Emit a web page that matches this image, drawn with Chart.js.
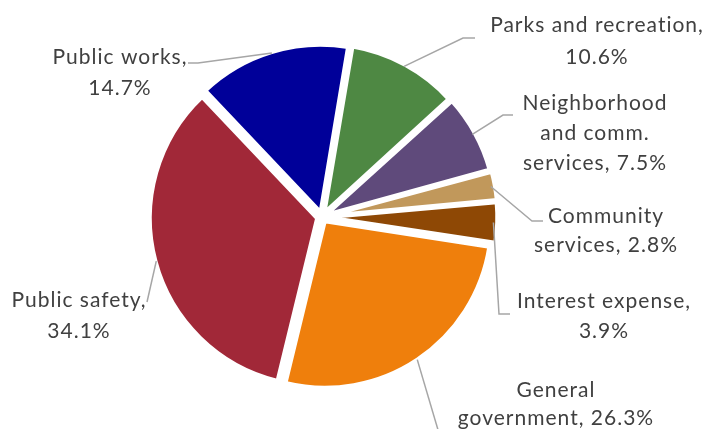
<!DOCTYPE html>
<html>
<head>
<meta charset="utf-8">
<script src="https://cdn.jsdelivr.net/npm/chart.js@4"></script>
<style>
  html, body { margin: 0; padding: 0; background: #ffffff; }
  #wrap { width: 720px; height: 429px; position: relative; }
</style>
</head>
<body>
<div id="wrap"><canvas id="chart"></canvas></div>
<script>
// --- data -------------------------------------------------------------------
var categories = [
  'Parks and recreation',
  'Neighborhood and comm. services',
  'Community services',
  'Interest expense',
  'General government',
  'Public safety',
  'Public works'
];
var shares = [10.6, 7.5, 2.8, 3.9, 26.3, 34.1, 14.7];
// how each category name wraps in its data label (last line gets the percent)
var labelLines = [
  ['Parks and recreation,'],
  ['Neighborhood', 'and comm.', 'services,'],
  ['Community', 'services,'],
  ['Interest expense,'],
  ['General', 'government,'],
  ['Public safety,'],
  ['Public works,']
];
var colors = ['#4e8843', '#5f4a7b', '#c1985b', '#8e4805', '#ef7f0c', '#a12838', '#000099'];

// --- label placement (Excel-style manual positions) --------------------------
var labelLayout = [
  { cx: 597, ys: [25, 57],        elbow: [463, 38],  end: [475, 38] },
  { cx: 595, ys: [103, 133, 163], elbow: [503, 115], end: [513, 115] },
  { cx: 606, ys: [216, 245],      elbow: [532, 221], end: [543, 221] },
  { cx: 604, ys: [301, 331],      elbow: [499, 314], end: [510, 314] },
  { cx: 556, ys: [390, 418],      elbow: [441, 440], end: [441, 440] },
  { cx: 79,  ys: [300, 331],      elbow: [147, 302], end: [147, 302] },
  { cx: 120, ys: [57, 88],        elbow: [198, 63],  end: [188, 63] }
];

var TEXT = '#404040';
var LEADER = '#a6a6a6';
var FONT = "21px Lato, 'Open Sans', sans-serif";
var OFFSET = 20;   // chart.js translates by offset / 4

var leaderLabels = {
  id: 'leaderLabels',
  afterDatasetsDraw: function (chart) {
    var ctx = chart.ctx;
    var meta = chart.getDatasetMeta(0);
    ctx.save();
    meta.data.forEach(function (arc, i) {
      var p = arc.getProps(['x', 'y', 'startAngle', 'endAngle', 'outerRadius'], true);
      var mid = (p.startAngle + p.endAngle) / 2;
      var r = p.outerRadius + OFFSET / 4;
      var ax = p.x + Math.cos(mid) * r;
      var ay = p.y + Math.sin(mid) * r;
      var L = labelLayout[i];

      ctx.strokeStyle = LEADER;
      ctx.lineWidth = 1.5;
      ctx.beginPath();
      ctx.moveTo(ax, ay);
      ctx.lineTo(L.elbow[0], L.elbow[1]);
      ctx.lineTo(L.end[0], L.end[1]);
      ctx.stroke();

      var lines = labelLines[i].slice();
      var pct = shares[i].toFixed(1) + '%';
      if (lines.length === L.ys.length) lines[lines.length - 1] += ' ' + pct;
      else lines.push(pct);

      ctx.fillStyle = TEXT;
      ctx.font = FONT;
      ctx.textAlign = 'center';
      ctx.textBaseline = 'middle';
      if ('letterSpacing' in ctx) ctx.letterSpacing = '1px';
      lines.forEach(function (t, k) {
        ctx.fillText(t, L.cx, L.ys[k]);
      });
    });
    ctx.restore();
  }
};

new Chart(document.getElementById('chart'), {
  type: 'pie',
  data: {
    labels: categories,
    datasets: [{
      data: shares,
      backgroundColor: colors,
      borderColor: '#ffffff',
      borderWidth: 4,
      offset: OFFSET,
      hoverOffset: 0
    }]
  },
  options: {
    responsive: true,
    maintainAspectRatio: false,
    animation: false,
    rotation: 9.5,
    radius: 166.5,
    layout: { padding: { left: 122, right: 198, top: 17, bottom: 12 } },
    plugins: {
      legend: { display: false },
      tooltip: { enabled: false }
    }
  },
  plugins: [leaderLabels]
});
</script>
</body>
</html>
